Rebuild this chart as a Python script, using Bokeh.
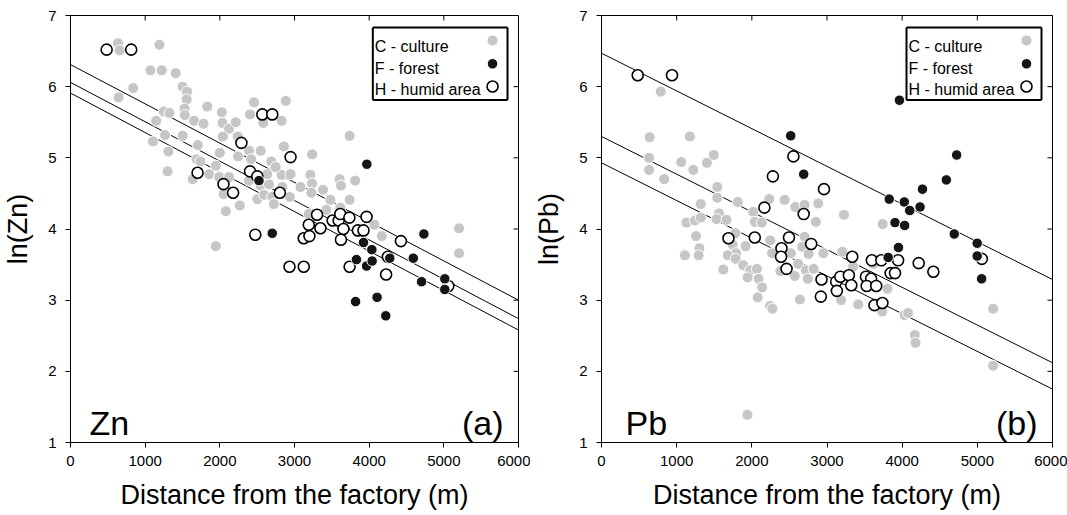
from bokeh.plotting import figure
from bokeh.layouts import row
from bokeh.models import Range1d, FixedTicker, Label, ColumnDataSource
from bokeh.embed import file_html
from bokeh.resources import INLINE

FONT = "Liberation Sans"

x_ticks = [0, 1000, 2000, 3000, 4000, 5000, 6000]
y_ticks = [1, 2, 3, 4, 5, 6, 7]

# ---------------- Zn data ----------------
zn_culture_x = [636, 658, 1191, 1071, 1222, 1408, 1502, 1560, 1556, 840, 644, 1249, 1324, 1147, 1527, 1531,
                1655, 1782, 1832, 2027, 2036, 2124, 2213, 2458, 2404, 2582, 2827, 2884, 1266, 1502, 2040, 2240,
                1105, 1311, 1706, 2000, 2244, 2391, 2547, 2858, 1300, 1690, 1740, 1947, 2420, 1636, 1858, 1991,
                2124, 2444, 2391, 2547, 2658, 2689, 2760, 2636, 2827, 2947, 2049, 2080, 2267, 2502, 2591, 2702,
                2724, 2938, 2836, 3080, 3236, 3213, 3236, 3227, 3382, 3480, 3604, 3622, 3813, 3738, 3738, 3613,
                3427, 3191, 4070, 4169, 5204, 5204, 1947, 2747]
zn_culture_y = [6.61, 6.51, 6.59, 6.23, 6.23, 6.19, 6.00, 5.93, 5.82, 5.98, 5.85, 5.65, 5.63, 5.52, 5.69, 5.60,
                5.52, 5.48, 5.72, 5.64, 5.49, 5.41, 5.50, 5.78, 5.61, 5.49, 5.52, 5.80, 5.32, 5.31, 5.30, 5.30,
                5.23, 5.09, 5.18, 5.07, 5.02, 5.10, 5.10, 5.16, 4.81, 4.98, 4.95, 4.89, 4.98, 4.70, 4.77, 4.73,
                4.73, 4.73, 4.68, 4.61, 4.63, 4.95, 4.87, 4.77, 4.76, 4.77, 4.49, 4.25, 4.33, 4.42, 4.48, 4.45,
                4.35, 4.45, 4.59, 4.59, 5.05, 4.76, 4.64, 4.51, 4.55, 4.41, 4.70, 4.61, 4.68, 5.31, 4.41, 4.30,
                4.27, 4.21, 4.06, 3.90, 4.01, 3.66, 3.76, 4.87]

zn_forest_x = [3969, 2524, 2702, 4733, 3924, 4036, 3830, 3965, 4040, 4276, 4591, 4702, 5013, 5013, 3818, 4106, 4222]
zn_forest_y = [4.91, 4.68, 3.94, 3.93, 3.81, 3.71, 3.57, 3.48, 3.55, 3.59, 3.59, 3.26, 3.30, 3.15, 2.98, 3.04, 2.78]

zn_humid_x = [484, 813, 2569, 2702, 2289, 2947, 2404, 2502, 1702, 2049, 2178, 2804, 3302, 3191, 3347, 3124, 3200,
              3511, 3591, 3613, 3735, 3655, 3622, 3849, 3924, 3965, 4425, 2475, 2933, 3124, 3738, 4227, 4250, 5060]
zn_humid_y = [6.52, 6.52, 5.61, 5.61, 5.21, 5.01, 4.81, 4.74, 4.79, 4.63, 4.51, 4.51, 4.20, 4.06, 4.01, 3.87, 3.90,
              4.12, 4.12, 4.21, 4.16, 4.00, 3.85, 3.98, 3.98, 4.17, 3.83, 3.92, 3.47, 3.47, 3.47, 3.36, 3.61, 3.20]

zn_line_intercepts = [6.31, 6.06, 5.91]
zn_line_end_values = [3.00, 2.74, 2.58]   # value at 6000 m

# ---------------- Pb data ----------------
pb_culture_x = [788, 642, 633, 633, 834, 1175, 1061, 1221, 1403, 1494, 1540, 1540, 1321, 1130, 1244, 1321, 1257,
                1303, 1107, 1563, 1531, 1663, 1813, 1918, 1781, 2018, 2041, 2132, 2232, 2246, 2437, 2579, 2702,
                2702, 2884, 2852, 2952, 3226, 3203, 3740, 1745, 1790, 2269, 2519, 2670, 2756, 1110, 1292, 1621,
                1680, 1785, 1886, 1977, 2068, 1945, 2091, 2137, 2078, 2242, 2274, 2379, 2571, 2639, 2616, 2721,
                2744, 2822, 3187, 3416, 3347, 3804, 3735, 4032, 4078, 4169, 4178, 5210, 5210, 1941, 3621]
pb_culture_y = [5.93, 5.29, 5.00, 4.83, 4.70, 5.30, 4.94, 4.83, 4.93, 5.04, 4.59, 4.44, 4.35, 4.09, 4.12, 4.16, 3.90,
                3.73, 3.64, 4.22, 4.14, 4.13, 4.38, 3.76, 3.94, 4.24, 4.10, 4.09, 4.42, 3.84, 4.41, 4.31, 4.34,
                3.89, 4.36, 4.10, 3.66, 4.20, 3.68, 4.07, 3.78, 3.66, 3.66, 3.66, 3.75, 3.65, 3.63, 3.63, 3.43,
                3.63, 3.58, 3.49, 3.42, 3.44, 3.32, 3.30, 3.18, 3.04, 2.92, 2.88, 3.41, 3.34, 3.01, 3.51, 3.42,
                3.30, 3.44, 3.00, 2.94, 3.47, 3.16, 2.84, 2.79, 2.82, 2.51, 2.40, 2.88, 2.08, 1.39, 3.51]

pb_forest_x = [3964, 2517, 2690, 4725, 4588, 4270, 3828, 4028, 4101, 4238, 3905, 4033, 3951, 4693, 4998, 3814, 4998, 5057]
pb_forest_y = [5.81, 5.31, 4.77, 5.04, 4.69, 4.56, 4.42, 4.38, 4.26, 4.31, 4.09, 4.05, 3.74, 3.93, 3.80, 3.60, 3.62, 3.30]

pb_humid_x = [482, 938, 2553, 2280, 2960, 2167, 2690, 1689, 2039, 2494, 2394, 2790, 2389, 2462, 3336, 3596, 3723,
              3946, 4220, 4415, 3846, 3905, 2927, 2918, 3122, 3131, 3177, 3291, 3323, 3518, 3587, 3528, 3655, 3632,
              3737, 5060]
pb_humid_y = [6.16, 6.16, 5.02, 4.74, 4.56, 4.30, 4.21, 3.87, 3.88, 3.88, 3.73, 3.79, 3.61, 3.44, 3.61, 3.56, 3.56,
              3.56, 3.52, 3.40, 3.38, 3.38, 3.29, 3.05, 3.26, 3.13, 3.33, 3.35, 3.21, 3.33, 3.30, 3.20, 3.20, 2.93,
              2.96, 3.58]

pb_line_intercepts = [6.47, 5.30, 4.93]
pb_line_end_values = [3.29, 2.12, 1.75]

legend_labels = ["C - culture", "F - forest", "H - humid area"]

GRAY = "#c6c6c6"
BLACK = "#151515"

FIG_H = 515
BORDER_TOP = 15
BORDER_BOTTOM = 73
FRAME_H = FIG_H - BORDER_TOP - BORDER_BOTTOM


def make_panel(width, left, right, ylabel, elem, tag, cx, cy, fx, fy, hx, hy, intercepts, ends, elem_dx):
    frame_w = width - left - right
    p = figure(width=width, height=FIG_H, output_backend="svg", toolbar_location=None,
               x_range=Range1d(0, 6000), y_range=Range1d(1, 7),
               min_border_left=left, min_border_right=right,
               min_border_top=BORDER_TOP, min_border_bottom=BORDER_BOTTOM)
    p.grid.visible = False
    p.outline_line_color = "black"
    p.outline_line_width = 1
    p.background_fill_color = "white"
    p.border_fill_color = "white"

    def dx(px):  # pixel offset from frame left -> data x
        return float(px) / frame_w * 6000.0

    def dy(py):  # pixel offset from frame top -> data y
        return 7.0 - float(py) / FRAME_H * 6.0

    for ax in (p.xaxis[0], p.yaxis[0]):
        ax.major_label_text_font = FONT
        ax.major_label_text_font_size = "15px"
        ax.major_label_text_color = "black"
        ax.axis_label_text_font = FONT
        ax.axis_label_text_font_size = "27px"
        ax.axis_label_text_font_style = "normal"
        ax.axis_label_text_color = "black"
        ax.minor_tick_line_color = None
        ax.major_tick_in = 0
        ax.major_tick_out = 5
        ax.axis_line_color = "black"
        ax.major_tick_line_color = "black"
    p.xaxis[0].ticker = FixedTicker(ticks=x_ticks)
    p.yaxis[0].ticker = FixedTicker(ticks=y_ticks)
    p.xaxis[0].axis_label = "Distance from the factory (m)"
    p.yaxis[0].axis_label = ylabel
    p.xaxis[0].major_label_standoff = 8
    p.xaxis[0].axis_label_standoff = 11
    p.yaxis[0].major_label_standoff = 9
    p.yaxis[0].axis_label_standoff = 12

    # legend box first (under everything), drawn as four edges
    bl, br = dx(frame_w - 146), dx(frame_w - 11)
    bt, bb = dy(12), dy(84.5)
    box_src = ColumnDataSource(dict(x0=[bl, br, br, bl], y0=[bt, bt, bb, bb],
                                    x1=[br, br, bl, bl], y1=[bt, bb, bb, bt]))
    p.segment(x0="x0", y0="y0", x1="x1", y1="y1", source=box_src, line_color="#000000", line_width=2)

    # inward tick marks on the top and right frame edges
    tlx = dx(5)
    tly = 6.0 * 5 / FRAME_H
    tick_src = ColumnDataSource(dict(
        x0=x_ticks + [6000.0] * len(y_ticks),
        y0=[7.0] * len(x_ticks) + y_ticks,
        x1=x_ticks + [6000.0 - tlx] * len(y_ticks),
        y1=[7.0 - tly] * len(x_ticks) + y_ticks))
    p.segment(x0="x0", y0="y0", x1="x1", y1="y1", source=tick_src, line_color="#000000", line_width=1)

    # regression lines
    for a, b in zip(intercepts, ends):
        p.line([0, 6000], [a, b], line_color="black", line_width=1)

    p.scatter(cx, cy, size=11, fill_color=GRAY, line_color="white", line_width=1)
    p.scatter(hx, hy, size=11, fill_color="white", line_color="black", line_width=1.6)
    p.scatter(fx, fy, size=10.5, fill_color=BLACK, line_color="white", line_width=1)

    baselines = [31, 52.7, 74.3]
    mark_y = [25, 48.3, 71]
    for lab, by in zip(legend_labels, baselines):
        p.add_layout(Label(x=dx(frame_w - 144), y=dy(by), text=lab, text_font=FONT,
                           text_font_size="16px", text_baseline="alphabetic", text_align="left",
                           text_color="black"))
    mx = dx(frame_w - 26)
    p.scatter([mx], [dy(mark_y[0])], size=11, fill_color=GRAY, line_color="white", line_width=1)
    p.scatter([mx], [dy(mark_y[1])], size=10.5, fill_color=BLACK, line_color="white", line_width=1)
    p.scatter([mx], [dy(mark_y[2])], size=11, fill_color="white", line_color="black", line_width=1.6)

    # panel labels
    p.add_layout(Label(x=dx(elem_dx), y=dy(407.5), text=elem, text_font=FONT, text_font_size="34px",
                       text_baseline="alphabetic", text_align="left", text_color="black"))
    p.add_layout(Label(x=dx(frame_w - 15), y=dy(407.5), text=tag, text_font=FONT, text_font_size="34px",
                       text_baseline="alphabetic", text_align="right", text_color="black"))
    return p


p1 = make_panel(530, 69, 12, "ln(Zn)", "Zn", "(a)", zn_culture_x, zn_culture_y, zn_forest_x, zn_forest_y,
                zn_humid_x, zn_humid_y, zn_line_intercepts, zn_line_end_values, 19)
p2 = make_panel(537, 71, 15, "ln(Pb)", "Pb", "(b)", pb_culture_x, pb_culture_y, pb_forest_x, pb_forest_y,
                pb_humid_x, pb_humid_y, pb_line_intercepts, pb_line_end_values, 24)

layout = row(p1, p2)
open("out.html", "w").write(file_html(layout, INLINE))
